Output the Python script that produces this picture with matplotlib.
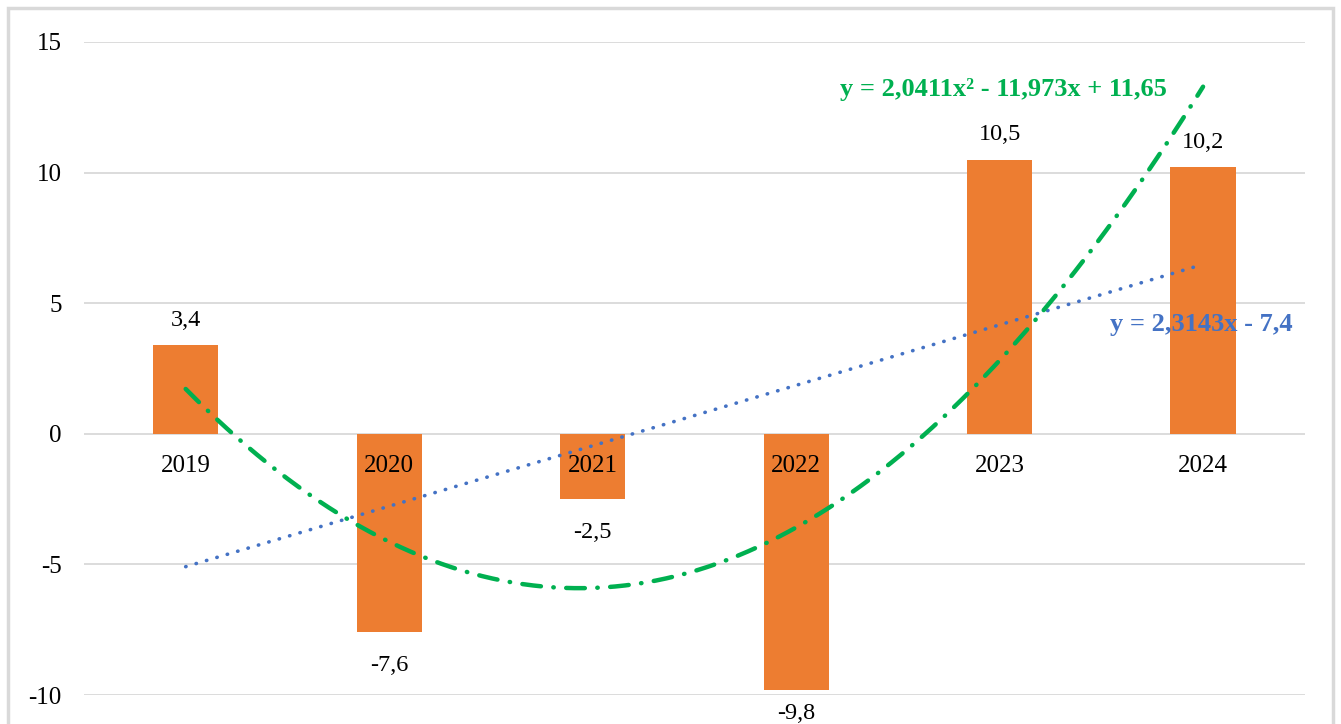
import numpy as np
import matplotlib.pyplot as plt
from matplotlib.patches import Rectangle

years = ['2019', '2020', '2021', '2022', '2023', '2024']
values = [3.4, -7.6, -2.5, -9.8, 10.5, 10.2]
value_labels = ['3,4', '-7,6', '-2,5', '-9,8', '10,5', '10,2']
yticks = [-10, -5, 0, 5, 10, 15]

plt.rcParams['font.family'] = ['Liberation Serif', 'DejaVu Serif']

fig = plt.figure(figsize=(13.41, 7.24), dpi=100)
ax = fig.add_axes([0.0626, 0.040, 0.9104, 0.902])

# outer chart border
fig.patches.append(Rectangle((8 / 1341, -0.05), 1325 / 1341, 1.05 - 8 / 724,
                             transform=fig.transFigure, fill=False,
                             edgecolor='#D9D9D9', linewidth=2.5))

x = np.arange(1, len(values) + 1)
ax.bar(x, values, width=0.32, color='#ED7D31', zorder=2)

# trend lines fitted to the data
lin = np.polyfit(x, values, 1)
quad = np.polyfit(x, values, 2)
xs = np.linspace(1, 6, 200)
ax.plot(xs, np.polyval(lin, xs), color='#4472C4', linewidth=2.6,
        linestyle=(0, (0.1, 2.9)), dash_capstyle='round', zorder=3)
ax.plot(xs, np.polyval(quad, xs), color='#00B050', linewidth=3.2,
        linestyle=(0, (4.2, 2.8, 0.1, 2.8)), dash_capstyle='round', zorder=3)

ax.text(5.02, 13.2, 'y = 2,0411x² - 11,973x + 11,65', color='#00B050',
        fontsize=19, fontweight='bold', ha='center', va='center')
ax.text(5.99, 4.2, 'y = 2,3143x - 7,4', color='#4472C4',
        fontsize=19, fontweight='bold', ha='center', va='center')

for xi, v, lab, yr in zip(x, values, value_labels, years):
    if v >= 0:
        off = 18
    elif v > -9:
        off = -24
    else:
        off = -17
    ax.annotate(lab, (xi, v), xytext=(0, off), textcoords='offset points',
                ha='center', va='center', fontsize=17.5, annotation_clip=False)
    ax.annotate(yr, (xi, 0), xytext=(0, -23), textcoords='offset points',
                ha='center', va='center', fontsize=18, zorder=4)

ax.set_xlim(0.5, 6.5)
ax.set_ylim(-10, 15)
ax.set_yticks(yticks)
ax.set_yticklabels([str(t) for t in yticks], fontsize=18)
ax.set_xticks([])
ax.tick_params(axis='y', length=0, pad=16)
ax.grid(axis='y', color='#D9D9D9', linewidth=1.3, zorder=0)
ax.set_axisbelow(True)
for s in ax.spines.values():
    s.set_visible(False)

fig.savefig('out.png', dpi=100)
